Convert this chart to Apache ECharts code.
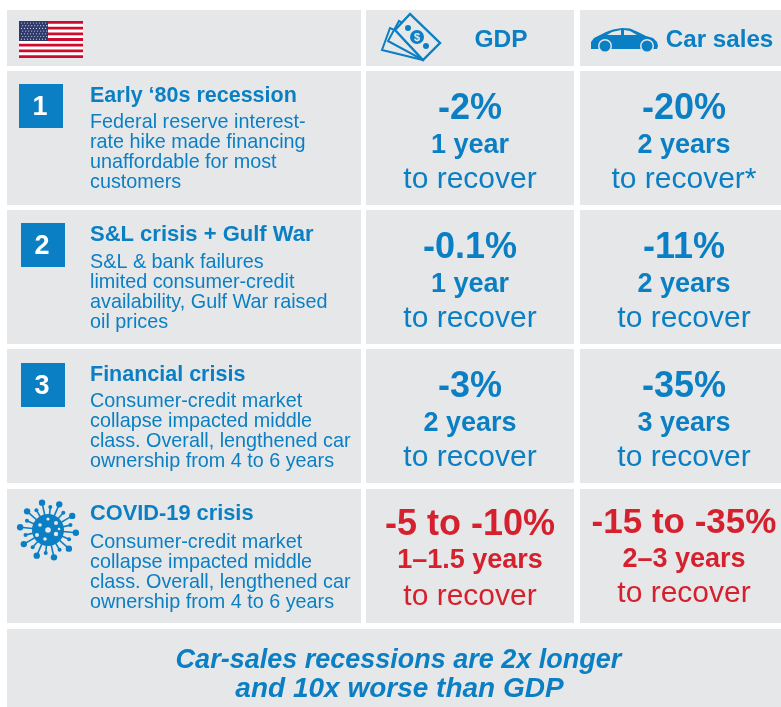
<!DOCTYPE html>
<html>
<head>
<meta charset="utf-8">
<style>html,body{margin:0;background:#fff}#chart{width:781px;height:707px}</style>
</head>
<body>
<div id="chart"></div>
<script src="https://cdn.jsdelivr.net/npm/echarts@6/dist/echarts.min.js"></script>
<script>
// table content
const columns = ["GDP", "Car sales"];
const rowNumbers = ["1", "2", "3", ""];
const rowTitles = ["Early ‘80s recession", "S&L crisis + Gulf War", "Financial crisis", "COVID-19 crisis"];
const rowBodies = [
  ["Federal reserve interest-", "rate hike made financing", "unaffordable for most", "customers"],
  ["S&L & bank failures", "limited consumer-credit", "availability, Gulf War raised", "oil prices"],
  ["Consumer-credit market", "collapse impacted middle", "class. Overall, lengthened car", "ownership from 4 to 6 years"],
  ["Consumer-credit market", "collapse impacted middle", "class. Overall, lengthened car", "ownership from 4 to 6 years"]
];
const gdpDrops = ["-2%", "-0.1%", "-3%", "-5 to -10%"];
const gdpYears = ["1 year", "1 year", "2 years", "1–1.5 years"];
const gdpNotes = ["to recover", "to recover", "to recover", "to recover"];
const carDrops = ["-20%", "-11%", "-35%", "-15 to -35%"];
const carYears = ["2 years", "2 years", "3 years", "2–3 years"];
const carNotes = ["to recover*", "to recover", "to recover", "to recover"];
const footerLines = ["Car-sales recessions are 2x longer", "and 10x worse than GDP"];

const BLUE = "#0a7fc4";
const RED = "#d5212e";
const GREY = "#e6e7e9";
const FONT = '"Liberation Sans", Arial, sans-serif';

// grid of the table
const colX = [[7, 361], [366, 574], [580, 781]];
const rowY = [[71, 205], [210, 344], [349, 483], [489, 623]];
const els = [];

const box = (x0, y0, x1, y1, fill) =>
  els.push({ type: "rect", shape: { x: x0, y: y0, width: x1 - x0, height: y1 - y0 }, style: { fill } });

// y is the text baseline, the line box middle ends up about .24em above it
const label = (text, x, y, size, fill, weight, align, italic) =>
  els.push({
    type: "text",
    style: {
      text, x, y: y - size * 0.24, fill, align: align || "center", verticalAlign: "middle",
      font: `${italic ? "italic " : ""}${weight || "normal"} ${size}px ${FONT}`
    }
  });

const poly = (points, fill, stroke, lineWidth) =>
  els.push({ type: "polygon", shape: { points }, style: { fill, stroke, lineWidth: lineWidth || 0 } });

const dot = (cx, cy, r, fill) => els.push({ type: "circle", shape: { cx, cy, r }, style: { fill } });

// cells
colX.forEach(c => box(c[0], 10, c[1], 66, GREY));
rowY.forEach(r => colX.forEach(c => box(c[0], r[0], c[1], r[1], GREY)));
box(7, 629, 781, 707, GREY);

// flag
box(19, 21, 83, 58, "#ffffff");
for (let i = 0; i < 7; i++) {
  const y0 = 21 + (i * 37) / 6.5;
  box(19, y0, 83, y0 + 37 / 13, "#cf0a2c");
}
box(19, 21, 48, 41, "#2f3a6b");
for (let r = 0; r < 7; r++) {
  for (let c = 0; c < 9; c++) dot(21.5 + c * 3 + (r % 2) * 1.2, 23 + r * 2.7, 0.6, "#c9cde0");
}

// bills icon
poly([[390, 28], [382, 50], [423, 60], [430, 45]], GREY, BLUE, 2);
poly([[399, 21], [388, 41], [423, 60], [435, 42]], GREY, BLUE, 2);
poly([[410, 14], [395, 30], [423, 60], [440, 43]], GREY, BLUE, 2.4);
dot(408, 28, 3, BLUE);
dot(426, 46, 3, BLUE);
dot(417, 37, 7, BLUE);
label("$", 417, 41, 11, GREY, "bold");

// car icon
poly([[591, 47], [591, 42], [594, 38], [600, 35], [606, 32], [613, 29.5], [622, 28], [630, 28.5], [638, 32], [646, 36],
  [653, 38], [657, 42], [658, 46], [657, 49], [591, 49]], BLUE);
poly([[607, 35], [612, 32], [621, 30], [621, 35]], GREY);
poly([[624, 30], [630, 31], [637, 35], [624, 35]], GREY);
[605, 647].forEach(cx => { dot(cx, 46, 7, GREY); dot(cx, 46, 5.5, BLUE); });

// header labels
label(columns[0], 501, 46, 24.5, BLUE, "bold");
label(columns[1], 719.5, 46, 24.2, BLUE, "bold");

// row number boxes
const numBoxX = [19, 21, 21];
const numBoxY = [84, 223, 363];
rowNumbers.forEach((n, i) => {
  if (!n) return;
  box(numBoxX[i], numBoxY[i], numBoxX[i] + 44, numBoxY[i] + 44, BLUE);
  label(n, numBoxX[i] + 21, numBoxY[i] + 30, 27, "#fff", "bold");
});

// virus icon
const vx = 48, vy = 530;
for (let i = 0; i < 20; i++) {
  const a = (i / 20) * Math.PI * 2 + 0.1;
  const len = i % 2 ? 23 : 28;
  els.push({
    type: "line",
    shape: { x1: vx, y1: vy, x2: vx + Math.cos(a) * len, y2: vy + Math.sin(a) * len },
    style: { stroke: BLUE, lineWidth: 1.6 }
  });
  dot(vx + Math.cos(a) * len, vy + Math.sin(a) * len, i % 2 ? 2 : 3.2, BLUE);
}
dot(vx, vy, 16, BLUE);
[[0, 0, 2.8], [-8, -5, 1.8], [8, -7, 2], [-11, 5, 2], [8, 4, 2.2], [-3, 9, 1.8], [0, -11, 1.6], [11, -1, 1.3]].forEach(s =>
  dot(vx + s[0], vy + s[1], s[2], GREY)
);

// left column text
const titleBase = [101.5, 240, 380, 519];
const titleSize = [21.5, 22, 21.5, 21.8];
const bodyBase = [127.5, 267, 406.5, 547.5];
rowTitles.forEach((t, i) => {
  label(t, 90, titleBase[i], titleSize[i], BLUE, "bold", "left");
  rowBodies[i].forEach((line, j) => label(line, 90, bodyBase[i] + j * 20, 19.8, BLUE, "normal", "left"));
});

// value columns
const valueBase = [
  [[118, 152.5, 187], [257, 291.5, 326], [396, 430.5, 465], [534, 567.5, 604]],
  [[118, 152.5, 187], [257, 291.5, 326], [396, 430.5, 465], [532, 566.5, 601]]
];
[[gdpDrops, gdpYears, gdpNotes, 470], [carDrops, carYears, carNotes, 684]].forEach((col, k) => {
  for (let i = 0; i < 4; i++) {
    const color = i === 3 ? RED : BLUE;
    const b = valueBase[k][i];
    label(col[0][i], col[3], b[0], i === 3 ? (k ? 35 : 36) : 36, color, "bold");
    label(col[1][i], col[3], b[1], 27, color, "bold");
    label(col[2][i], col[3], b[2], 30, color);
  }
});

// footer
label(footerLines[0], 398.5, 667, 27, BLUE, "bold", "center", true);
label(footerLines[1], 399.5, 696, 28, BLUE, "bold", "center", true);

const chart = echarts.init(document.getElementById("chart"));
chart.setOption({ animation: false, backgroundColor: "#fff", graphic: { elements: els } });
</script>
</body>
</html>
